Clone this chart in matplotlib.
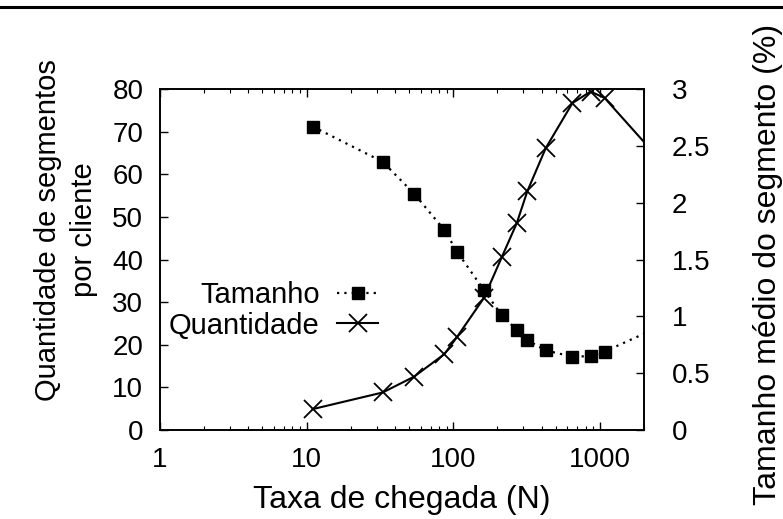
import matplotlib
matplotlib.use("Agg")
import matplotlib.pyplot as plt
from matplotlib.lines import Line2D

plt.rcParams['font.family'] = ['Liberation Sans', 'DejaVu Sans']

# Data
taxa = [11, 33, 54, 87, 106, 162, 214, 271, 320, 427, 650, 864, 1077, 3000]
tamanho = [2.67, 2.36, 2.08, 1.76, 1.57, 1.23, 1.01, 0.88, 0.79, 0.70, 0.645, 0.65, 0.69, 0.95]
quantidade = [4.9, 8.8, 12.5, 17.8, 21.8, 31.0, 40.5, 48.5, 56.0, 66.1, 76.7, 79.4, 77.9, 60.8]
xticks = [1, 10, 100, 1000]
xticklabels = ['1', '10', '100', '1000']
yticks_left = [0, 10, 20, 30, 40, 50, 60, 70, 80]
yticks_right = [0, 0.5, 1, 1.5, 2, 2.5, 3]
yticklabels_right = ['0', '0.5', '1', '1.5', '2', '2.5', '3']

W, H = 783, 519
fig = plt.figure(figsize=(W / 100, H / 100), dpi=100)
l, r, t, b = 160, 644, 89, 430
ax = fig.add_axes([l / W, 1 - b / H, (r - l) / W, (b - t) / H])
ax2 = ax.twinx()

fs = 20
lfs = 23
ax.set_xscale('log')
ax.set_xlim(1, 2000)
ax.set_ylim(0, 80)
ax2.set_ylim(0, 3)

q_line, = ax.plot(taxa, quantidade, color='black', lw=1.5, marker='x', ms=13,
                  mew=1.3, clip_on=True)
t_line, = ax2.plot(taxa, tamanho, color='black', lw=1.6, linestyle=(0, (1, 2.3)),
                   marker='s', ms=8.5, clip_on=True)

ax.set_xticks(xticks)
ax.set_xticklabels(xticklabels, fontsize=fs)
ax.set_yticks(yticks_left)
ax.set_yticklabels([str(v) for v in yticks_left], fontsize=fs)
ax2.set_yticks(yticks_right)
ax2.set_yticklabels(yticklabels_right, fontsize=fs)

ax.tick_params(axis='x', which='major', direction='in', length=6, width=1, top=True, pad=12)
ax.tick_params(axis='x', which='minor', direction='in', length=3, width=0.8, top=True)
ax.tick_params(axis='y', which='major', direction='in', length=6, width=1, right=False, pad=12)
ax2.tick_params(axis='y', which='major', direction='in', length=6, width=1, pad=20)

for a in (ax, ax2):
    for s in a.spines.values():
        s.set_linewidth(1.2)

# axis labels placed in figure pixels
fig.text(402 / W, 1 - 500 / H, 'Taxa de chegada (N)', fontsize=lfs, ha='center', va='center')
fig.text(66 / W, 1 - 230 / H, 'Quantidade de segmentos\npor cliente', fontsize=21,
         ha='center', va='center', rotation=90, multialignment='center', linespacing=1.4)
fig.text(768 / W, 1 - 264 / H, 'Tamanho médio do segmento (%)', fontsize=lfs,
         ha='center', va='center', rotation=90)

h1 = Line2D([], [], color='black', lw=1.6, linestyle=(0, (1, 2.3)), marker='s', ms=8.5)
h2 = Line2D([], [], color='black', lw=1.5, marker='x', ms=13, mew=1.3)
leg = ax.legend([h1, h2], ['Tamanho', 'Quantidade'], loc='center right',
                bbox_to_anchor=((378 - l) / (r - l), (b - 310.5) / (b - t)),
                frameon=False, markerfirst=False,
                fontsize=21, handlelength=1.4, handletextpad=0.6, labelspacing=0.07,
                borderaxespad=0.0, borderpad=0.0)
for txt in leg.get_texts():
    txt.set_ha('right')

# top border line
fig.add_artist(Line2D([0, 1], [1 - 7 / H, 1 - 7 / H], color='black', lw=2.2))

fig.savefig('out.png', dpi=100)
